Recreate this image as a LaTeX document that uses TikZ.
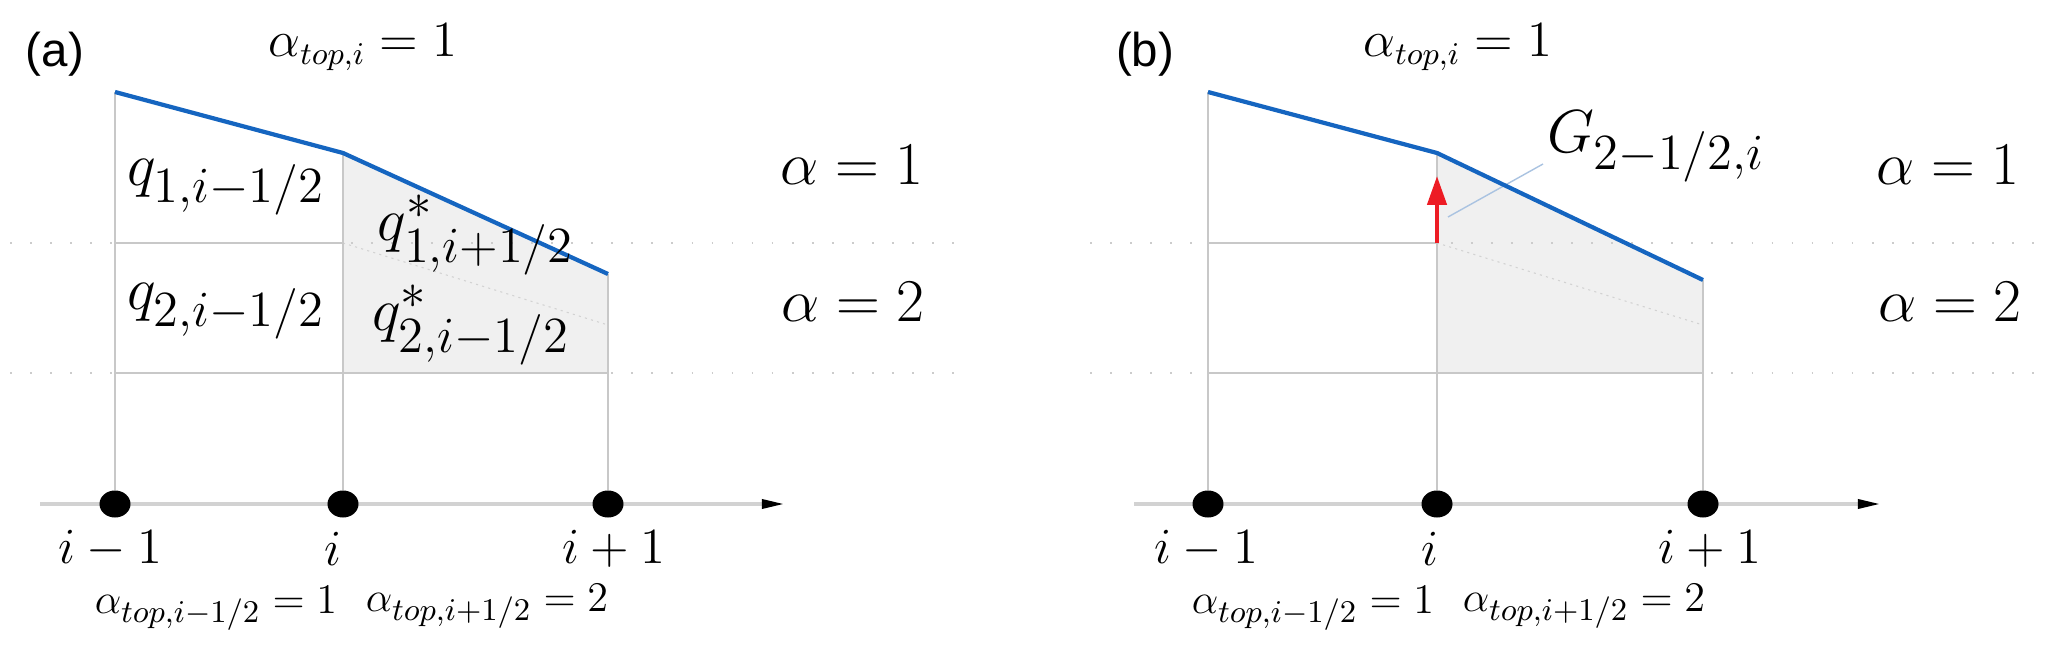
\documentclass[tikz,border=0pt]{standalone}
\usepackage{fontspec}
\newfontfamily\lsans{Liberation Sans}
\usetikzlibrary{arrows.meta,shapes.geometric}
\definecolor{cblue}{RGB}{21,101,192}
\definecolor{cred}{RGB}{237,28,36}
\definecolor{cfill}{RGB}{240,240,240}
\definecolor{cline}{RGB}{200,200,200}
\definecolor{clead}{RGB}{170,195,225}
\begin{document}
\begin{tikzpicture}[x=0.01cm,y=-0.01cm,
  grid/.style={draw=cline, line width=0.35pt},
  guide/.style={draw=gray!40, line width=0.4pt, dash pattern=on 0.5pt off 5.2pt},
  diag/.style={draw=gray!35, line width=0.3pt, dash pattern=on 0.6pt off 1.2pt},
  surf/.style={draw=cblue, line width=1.2pt},
  axisline/.style={draw=gray!35, line width=0.9pt, -{Triangle[length=6.3pt,width=2.6pt,color=black]}},
  dotnode/.style={ellipse, fill=black, minimum width=0.31cm, minimum height=0.27cm, inner sep=0pt},
  big/.style={font=\fontsize{19}{23}\selectfont, inner sep=0pt},
  mid/.style={font=\fontsize{13.5}{16}\selectfont, inner sep=0pt},
  low/.style={font=\fontsize{13}{16}\selectfont, inner sep=0pt},
  panel/.style={font=\lsans\fontsize{13.5}{16}\selectfont, inner sep=0pt},
  lead/.style={draw=clead, line width=0.4pt},
  redarrow/.style={draw=cred, line width=1.2pt, -{Triangle[length=8.2pt,width=5.4pt]}},
]
\useasboundingbox (0,0) rectangle (2067,649);

% ---------------- panel (a) ----------------
\coordinate (aTL) at (115,92);
\coordinate (aTM) at (343,153);
\coordinate (aTR) at (608,274);
\coordinate (aML) at (115,243);
\coordinate (aMM) at (343,243);
\coordinate (aBL) at (115,373);
\coordinate (aBM) at (343,373);
\coordinate (aBR) at (608,373);
\coordinate (aDg) at (608,325);
\coordinate (aAx0) at (40,504);
\coordinate (aAx1) at (784,504);
\coordinate (aG0) at (10,243);
\coordinate (aG1) at (955,243);
\coordinate (aH0) at (10,373);
\coordinate (aH1) at (955,373);

\fill[cfill] (aTM) -- (aTR) -- (aBR) -- (aBM) -- cycle;
\draw[guide] (aG0) -- (aG1);
\draw[guide] (aH0) -- (aH1);
\draw[diag] (aMM) -- (aDg);
\draw[grid] (aML) -- (aMM);
\draw[grid] (aBL) -- (aBR);
\draw[axisline] (aAx0) -- (aAx1);
\node[dotnode] (aD1) at (115,504) {};
\node[dotnode] (aD2) at (343,504) {};
\node[dotnode] (aD3) at (608,504) {};
\draw[grid] (aTL) -- (aD1);
\draw[grid] (aTM) -- (aD2);
\draw[grid] (aTR) -- (aD3);
\draw[surf] (aTL) -- (aTM) -- (aTR);

\node[panel] (aLab) at (55,54) {(a)};
\node[mid] (aTop) at (363,47) {$\alpha_{top,i}=1$};
\node[big] (aq1) at (226,187) {$q_{1,i-1/2}$};
\node[big] (aq2) at (226,311) {$q_{2,i-1/2}$};
\node[big] (aq1s) at (476,235) {$q^*_{1,i+1/2}$};
\node[big] (aq2s) at (471,325) {$q^*_{2,i-1/2}$};
\node[big] (aA1) at (852,165) {$\alpha=1$};
\node[big] (aA2) at (853,302) {$\alpha=2$};
\node[mid] (aI1) at (110,549) {$i-1$};
\node[mid] (aI2) at (333,549) {$i$};
\node[mid] (aI3) at (614,549) {$i+1$};
\node[low] (aB1) at (216,608) {$\alpha_{top,i-1/2}=1$};
\node[low] (aB2) at (487,606) {$\alpha_{top,i+1/2}=2$};

% ---------------- panel (b) ----------------
\coordinate (bTL) at (1208,92);
\coordinate (bTM) at (1437,153);
\coordinate (bTR) at (1703,280);
\coordinate (bML) at (1208,243);
\coordinate (bMM) at (1437,243);
\coordinate (bBL) at (1208,373);
\coordinate (bBM) at (1437,373);
\coordinate (bBR) at (1703,373);
\coordinate (bDg) at (1703,325);
\coordinate (bAx0) at (1134,504);
\coordinate (bAx1) at (1880,504);
\coordinate (bG0) at (1090,243);
\coordinate (bG1) at (2050,243);
\coordinate (bH0) at (1090,373);
\coordinate (bH1) at (2050,373);
\coordinate (bArr) at (1437,176);
\coordinate (bL0) at (1448,217);
\coordinate (bL1) at (1543,164);

\fill[cfill] (bTM) -- (bTR) -- (bBR) -- (bBM) -- cycle;
\draw[guide] (bG0) -- (bG1);
\draw[guide] (bH0) -- (bH1);
\draw[diag] (bMM) -- (bDg);
\draw[grid] (bML) -- (bMM);
\draw[grid] (bBL) -- (bBR);
\draw[axisline] (bAx0) -- (bAx1);
\node[dotnode] (bD1) at (1208,504) {};
\node[dotnode] (bD2) at (1437,504) {};
\node[dotnode] (bD3) at (1703,504) {};
\draw[grid] (bTL) -- (bD1);
\draw[grid] (bTM) -- (bD2);
\draw[grid] (bTR) -- (bD3);
\draw[lead] (bL0) -- (bL1);
\draw[redarrow] (bMM) -- (bArr);
\draw[surf] (bTL) -- (bTM) -- (bTR);

\node[panel] (bLab) at (1145,54) {(b)};
\node[mid] (bTop) at (1458,47) {$\alpha_{top,i}=1$};
\node[big] (bG) at (1656,147) {$G_{2-1/2,i}$};
\node[big] (bA1) at (1948,165) {$\alpha=1$};
\node[big] (bA2) at (1950,302) {$\alpha=2$};
\node[mid] (bI1) at (1206,549) {$i-1$};
\node[mid] (bI2) at (1430,549) {$i$};
\node[mid] (bI3) at (1710,549) {$i+1$};
\node[low] (bB1) at (1313,608) {$\alpha_{top,i-1/2}=1$};
\node[low] (bB2) at (1584,606) {$\alpha_{top,i+1/2}=2$};
\end{tikzpicture}
\end{document}
